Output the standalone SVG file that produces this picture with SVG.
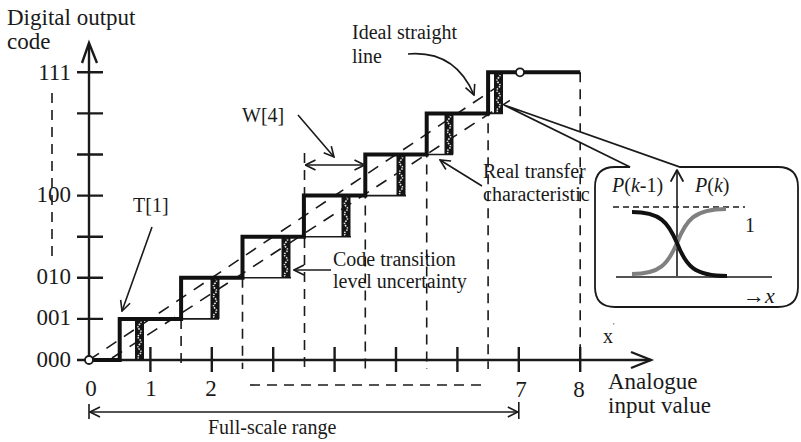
<svg xmlns="http://www.w3.org/2000/svg" xmlns:xlink="http://www.w3.org/1999/xlink" width="801" height="442" viewBox="0 0 801 442">
  <style>
    text { font-family: "Liberation Serif", "Times New Roman", serif; fill: #1a1a1a; }
    .big { font-size: 23px; }
    .lbl { font-size: 20px; }
    .axis { stroke: #1a1a1a; stroke-width: 2.4; fill: none; }
    .tick { stroke: #1a1a1a; stroke-width: 2.4; fill: none; }
    .stair { stroke: #111; stroke-width: 4; fill: none; stroke-linejoin: miter; }
    .thin { stroke: #1a1a1a; stroke-width: 1.6; fill: none; }
    .dash { stroke: #1a1a1a; stroke-width: 1.6; fill: none; stroke-dasharray: 10 7; }
    .ideal { stroke: #1a1a1a; stroke-width: 1.6; fill: none; stroke-dasharray: 12 9; }
    .arr { stroke: #1a1a1a; stroke-width: 1.6; fill: none; }
    .head { stroke: #1a1a1a; stroke-width: 1.8; fill: none; stroke-linecap: round; stroke-linejoin: round; }
  </style>
  <defs>
    <marker id="open" viewBox="0 0 12 12" refX="11" refY="6" markerWidth="12" markerHeight="12" markerUnits="userSpaceOnUse" orient="auto-start-reverse">
      <path d="M1,1 L11,6 L1,11" fill="none" stroke="#1a1a1a" stroke-width="1.6"/>
    </marker>
    <!-- transition-level uncertainty band, one code step high -->
    <g id="band">
      <rect x="0" y="0" width="9" height="41.1" fill="#141414"/>
      <path d="M4.5,0.5 q3,2.5 0,5 q-3,2.5 0,5 q3,2.5 0,5 q-3,2.5 0,5 q3,2.5 0,5 q-3,2.5 0,5 q3,2.5 0,5 q-3,2.5 0,5" fill="none" stroke="#e8e8e8" stroke-width="1.6" stroke-dasharray="1.4 1.2"/>
    </g>
  </defs>

  <rect width="801" height="442" fill="#fff"/>

  <!-- axes -->
  <g id="axes">
    <path class="axis" d="M89,362 V44"/>
    <path class="axis" d="M82,63 L89,43 L97,63" stroke-width="3"/>
    <path class="axis" d="M77,360 H651"/>
    <path class="axis" d="M631,352 L651,360 L631,368"/>
    <!-- y ticks -->
    <path class="tick" d="M77,318.9 H103 M77,277.8 H103 M77,236.7 H103 M77,195.6 H103 M77,154.5 H103 M77,113.4 H103 M77,72.3 H103"/>
    <!-- x ticks -->
    <path class="tick" d="M150.4,347 V372 M211.8,347 V372 M273.2,347 V372 M334.6,347 V372 M396,347 V372 M457.4,347 V372 M518.8,347 V372 M580.2,347 V372"/>
    <text class="big" x="71" y="80" text-anchor="end">111</text>
    <text class="big" x="71" y="202" text-anchor="end">100</text>
    <text class="big" x="71" y="284" text-anchor="end">010</text>
    <text class="big" x="71" y="325" text-anchor="end">001</text>
    <text class="big" x="71" y="367" text-anchor="end">000</text>
    <text class="big" x="91" y="396" text-anchor="middle">0</text>
    <text class="big" x="151" y="396" text-anchor="middle">1</text>
    <text class="big" x="211" y="396" text-anchor="middle">2</text>
    <text class="big" x="521" y="397" text-anchor="middle">7</text>
    <text class="big" x="579" y="397" text-anchor="middle">8</text>
    <text class="big" x="7" y="25">Digital output</text>
    <text class="big" x="7" y="49">code</text>
    <text class="big" x="608" y="389">Analogue</text>
    <text class="big" x="608" y="413">input value</text>
    <text class="lbl" x="603" y="343">x<tspan font-size="8" dy="-14">'</tspan></text>
  </g>

  <!-- dashed guides -->
  <g id="guides">
    <path class="dash" d="M52,93 V262"/>
    <path class="dash" d="M181.1,318.9 V369 M242.5,277.8 V369 M304.5,153 V369 M365.3,154.5 V369 M426.7,113.4 V369 M488.1,72.3 V369 M580.2,72.3 V360"/>
    <path class="dash" d="M250,385 H488" stroke-dasharray="8 5"/>
    <!-- ideal straight lines -->
    <path class="ideal" d="M89,360 L500,84.9"/>
    <path class="ideal" d="M112,358 L512,99"/>
  </g>

  <!-- real transfer characteristic -->
  <g id="transfer">
    <path class="thin" d="M181.1,318.9 H219 M242.5,277.8 H291 M303.9,236.7 H351 M365.3,195.6 H406 M426.7,154.5 H453 M488.1,113.4 H503"/>
    <use xlink:href="#band" x="135" y="318.9"/>
    <use xlink:href="#band" x="210.5" y="277.8"/>
    <use xlink:href="#band" x="281.5" y="236.7"/>
    <use xlink:href="#band" x="341.5" y="195.6"/>
    <use xlink:href="#band" x="396.5" y="154.5"/>
    <use xlink:href="#band" x="444.5" y="113.4"/>
    <use xlink:href="#band" x="494" y="72.3"/>
    <path class="stair" d="M89,360 H119.7 V318.9 H181.1 V277.8 H242.5 V236.7 H303.9 V195.6 H365.3 V154.5 H426.7 V113.4 H488.1 V72.3 H580.2"/>
    <circle cx="89" cy="360" r="4" fill="#fff" stroke="#1a1a1a" stroke-width="1.8"/>
    <circle cx="520" cy="72.3" r="4" fill="#fff" stroke="#1a1a1a" stroke-width="1.8"/>
  </g>

  <!-- range dimension -->
  <g id="range">
    <path class="arr" d="M89,404 V419 M518.8,402 V419"/>
    <path class="arr" d="M90,412 H517.8" marker-start="url(#open)" marker-end="url(#open)"/>
    <text class="lbl" x="208" y="434">Full-scale range</text>
  </g>

  <!-- annotations -->
  <g id="annotations">
    <text class="lbl" x="133" y="212">T[1]</text>
    <path class="arr" d="M152,227 L122,311" marker-end="url(#open)"/>
    <text class="lbl" x="242" y="122">W[4]</text>
    <path class="arr" d="M298,115 L334,157" marker-end="url(#open)"/>
    <path class="arr" d="M305.5,165 H364.5" marker-start="url(#open)" marker-end="url(#open)"/>
    <text class="lbl" x="352" y="39">Ideal straight</text>
    <text class="lbl" x="352" y="63">line</text>
    <path class="arr" d="M408,54 Q455,50 474,95" marker-end="url(#open)"/>
    <text class="lbl" x="483" y="178">Real transfer</text>
    <text class="lbl" x="483" y="201">characteristic</text>
    <path class="arr" d="M482,186 L440,160" marker-end="url(#open)"/>
    <text class="lbl" x="333" y="266">Code transition</text>
    <text class="lbl" x="333" y="288">level uncertainty</text>
    <path class="arr" d="M331,270 H294" marker-end="url(#open)"/>
  </g>

  <!-- magnified view of one transition -->
  <g id="inset">
    <path d="M630,167 L504,105 L680,167 H778 Q798,167 798,187 V287 Q798,307 778,307 H615 Q595,307 595,287 V187 Q595,167 615,167 Z" fill="#fff" stroke="#1a1a1a" stroke-width="1.8"/>
    <path class="thin" d="M616,277 H772"/>
    <path class="thin" d="M677,276 V171"/>
    <path class="head" d="M671,181 L677,170 L683,181"/>
    <path class="thin" d="M613,207 H745" stroke-dasharray="6 4"/>
    <path d="M632,274 C660,274 668,264 677,243 C686,220 694,209 726,209" fill="none" stroke="#808080" stroke-width="4"/>
    <path d="M632,212 C660,212 668,222 677,243 C686,266 694,276 727,276" fill="none" stroke="#111" stroke-width="4"/>
    <text class="lbl" x="612" y="192"><tspan font-style="italic">P</tspan>(<tspan font-style="italic">k</tspan>-1)</text>
    <text class="lbl" x="695" y="192"><tspan font-style="italic">P</tspan>(<tspan font-style="italic">k</tspan>)</text>
    <text class="lbl" x="745" y="232">1</text>
    <text x="743" y="303" font-size="22">→<tspan font-style="italic">x</tspan></text>
  </g>
</svg>
